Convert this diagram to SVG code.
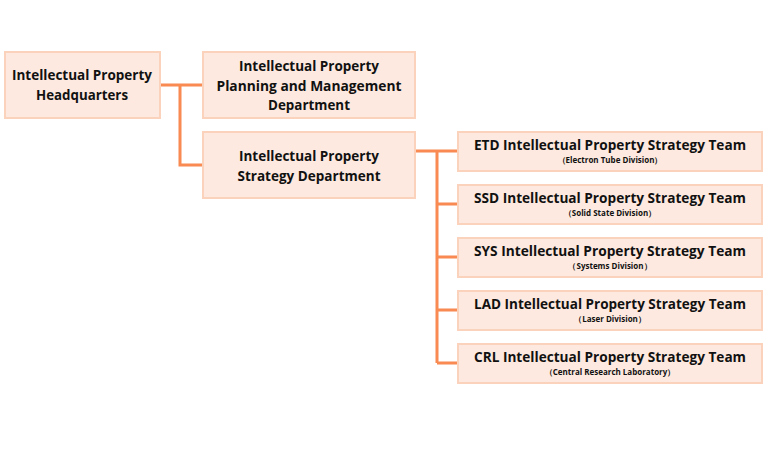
<svg xmlns="http://www.w3.org/2000/svg" width="768" height="450" viewBox="0 0 768 450">
<style>
.b{fill:#fde9df;stroke:#fbd3bd;stroke-width:2}
.t{font-family:"Open Sans","Liberation Sans",sans-serif;font-weight:bold;fill:#111;text-anchor:middle;font-size:14.5px}
.s{font-family:"Open Sans","Liberation Sans",sans-serif;font-weight:bold;fill:#111;text-anchor:middle;font-size:8px}
.c{fill:none;stroke:#f88a52;stroke-width:3}
</style>
<rect width="768" height="450" fill="#fff"/>
<g id="connectors">
<path class="c" d="M160 85H203M180 85V165H203M415 151H458M437 151V363M437 204H458M437 257H458M437 310H458M437 363H458"/>
</g>
<g id="hq"><rect class="b" x="5" y="52" width="155" height="66"/>
<text class="t" x="82" y="80" textLength="140" lengthAdjust="spacingAndGlyphs">Intellectual Property</text>
<text class="t" x="82" y="100" textLength="92" lengthAdjust="spacingAndGlyphs">Headquarters</text></g>
<g id="planning"><rect class="b" x="203" y="52" width="212" height="66"/>
<text class="t" x="309" y="71" textLength="140" lengthAdjust="spacingAndGlyphs">Intellectual Property</text>
<text class="t" x="309" y="91" textLength="185" lengthAdjust="spacingAndGlyphs">Planning and Management</text>
<text class="t" x="309" y="110" textLength="82" lengthAdjust="spacingAndGlyphs">Department</text></g>
<g id="strategy"><rect class="b" x="203" y="132" width="212" height="66"/>
<text class="t" x="309" y="161" textLength="140" lengthAdjust="spacingAndGlyphs">Intellectual Property</text>
<text class="t" x="309" y="181" textLength="143" lengthAdjust="spacingAndGlyphs">Strategy Department</text></g>
<g id="etd"><rect class="b" x="458" y="132" width="304" height="39"/>
<text class="t" x="610" y="150" textLength="272" lengthAdjust="spacingAndGlyphs">ETD Intellectual Property Strategy Team</text>
<text class="s" x="610" y="163">（Electron Tube Division）</text></g>
<g id="ssd"><rect class="b" x="458" y="185" width="304" height="39"/>
<text class="t" x="610" y="203" textLength="272" lengthAdjust="spacingAndGlyphs">SSD Intellectual Property Strategy Team</text>
<text class="s" x="610" y="216">（Solid State Division）</text></g>
<g id="sys"><rect class="b" x="458" y="238" width="304" height="39"/>
<text class="t" x="610" y="256" textLength="272" lengthAdjust="spacingAndGlyphs">SYS Intellectual Property Strategy Team</text>
<text class="s" x="610" y="269">（Systems Division）</text></g>
<g id="lad"><rect class="b" x="458" y="291" width="304" height="39"/>
<text class="t" x="610" y="309" textLength="272" lengthAdjust="spacingAndGlyphs">LAD Intellectual Property Strategy Team</text>
<text class="s" x="610" y="322">（Laser Division）</text></g>
<g id="crl"><rect class="b" x="458" y="344" width="304" height="39"/>
<text class="t" x="610" y="362" textLength="272" lengthAdjust="spacingAndGlyphs">CRL Intellectual Property Strategy Team</text>
<text class="s" x="610" y="375">（Central Research Laboratory）</text></g>
</svg>
